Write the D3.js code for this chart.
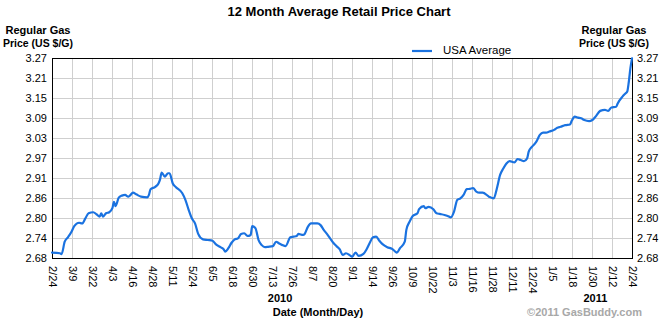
<!DOCTYPE html>
<html>
<head>
<meta charset="utf-8">
<script src="https://cdn.jsdelivr.net/npm/d3@7"></script>
<style>
html,body{margin:0;padding:0;background:#fff;}
svg{display:block;font-family:"Liberation Sans",Arial,sans-serif;}
</style>
</head>
<body>
<svg id="chart" width="663" height="324"></svg>
<script>
// ---- data (days since 2010-02-24, price in US $/G) ----
const dayOffsets = [0,5,6,8,10,12,14,17,19,21,23,26,28,30,31,32,34,36,38,39,40,42,44,46,48,49,51,53,56,60,61,62,65,67,68,69,71,73,74,76,78,82,84,86,88,90,92,95,98,101,103,106,108,109,111,113,115,117,119,121,123,125,126,128,130,132,134,136,139,141,143,145,147,150,152,154,155,158,159,161,163,167,169,171,173,175,177,179,181,183,185,188,189,191,193,196,198,200,202,204,206,208,211,214,216,217,219,222,223,225,227,230,231,234,235,237,240,242,244,247,249,251,253,255,257,259,261,263,265,267,269,271,275,278,280,282,284,286,288,291,293,295,297,299,300,302,304,305,307,309,311,313,316,318,320,323,326,327,329,331,333,335,338,340,342,345,348,350,352,355,356,359,361,362,363,364,365];
const usaAverage = [2.696,2.694,2.691,2.728,2.741,2.755,2.774,2.784,2.782,2.797,2.812,2.815,2.809,2.802,2.812,2.802,2.812,2.815,2.827,2.846,2.833,2.858,2.864,2.866,2.861,2.864,2.873,2.868,2.861,2.859,2.866,2.883,2.890,2.900,2.912,2.932,2.920,2.930,2.930,2.900,2.889,2.871,2.851,2.822,2.797,2.782,2.751,2.735,2.733,2.731,2.721,2.712,2.706,2.699,2.709,2.725,2.735,2.738,2.751,2.753,2.745,2.748,2.774,2.768,2.733,2.718,2.712,2.713,2.715,2.728,2.723,2.718,2.715,2.741,2.743,2.745,2.751,2.748,2.751,2.772,2.782,2.782,2.777,2.763,2.751,2.738,2.725,2.715,2.706,2.689,2.694,2.686,2.684,2.696,2.686,2.692,2.706,2.725,2.741,2.743,2.731,2.721,2.712,2.707,2.699,2.696,2.709,2.728,2.763,2.787,2.804,2.812,2.824,2.833,2.827,2.831,2.824,2.812,2.810,2.807,2.804,2.800,2.817,2.851,2.856,2.866,2.883,2.884,2.886,2.876,2.873,2.873,2.861,2.856,2.886,2.925,2.944,2.959,2.966,2.962,2.972,2.969,2.966,2.974,2.994,3.008,3.018,3.025,3.043,3.050,3.050,3.053,3.058,3.064,3.067,3.072,3.074,3.084,3.097,3.094,3.092,3.087,3.084,3.087,3.097,3.114,3.117,3.114,3.124,3.126,3.136,3.156,3.166,3.171,3.200,3.240,3.269];
const xTickLabels = ["2/24","3/9","3/22","4/3","4/16","4/28","5/11","5/24","6/5","6/18","6/30","7/13","7/26","8/7","8/20","9/1","9/14","9/26","10/9","10/22","11/3","11/16","11/28","12/11","12/24","1/5","1/18","1/30","2/12","2/24"];
const yTickLabels = ["2.68","2.74","2.80","2.86","2.91","2.97","3.03","3.09","3.15","3.21","3.27"];
const yMin = 2.68, yMax = 3.27;
const yearNames = ["2010","2011"];
const yearDays = [143.5, 342];
const seriesName = "USA Average";
const titleText = "12 Month Average Retail Price Chart";
const axisTitle = ["Regular Gas","Price (US $/G)"];
const xTitle = "Date (Month/Day)";
const credit = "\u00A92011 GasBuddy.com";

// ---- layout ----
const L = 52, R = 632, T = 58, B = 258;
const FONT = "Liberation Sans, Arial, sans-serif";
const svg = d3.select("#chart");
const x = d3.scaleLinear().domain([0, 365]).range([L, R]);
const xi = d3.scaleLinear().domain([0, xTickLabels.length - 1]).range([L, R]);
const xIdx = d3.range(xTickLabels.length);
const y = d3.scaleLinear().domain([yMin, yMax]).range([B, T]);
const yi = d3.scaleLinear().domain([0, yTickLabels.length - 1]).range([B, T]);
const yIdx = d3.range(yTickLabels.length);

// grid
const grid = svg.append("g").attr("stroke", "#cfcfcf").attr("stroke-width", 1).attr("shape-rendering","crispEdges");
grid.selectAll("line.v").data(xIdx).join("line")
  .attr("x1", d => xi(d) + 0.5).attr("x2", d => xi(d) + 0.5).attr("y1", T).attr("y2", B);
grid.selectAll("line.h").data(yIdx).join("line")
  .attr("x1", L).attr("x2", R).attr("y1", d => yi(d) + 0.5).attr("y2", d => yi(d) + 0.5);

// frame
svg.append("rect").attr("x", L + 0.5).attr("y", T + 0.5).attr("width", R - L).attr("height", B - T)
  .attr("fill", "none").attr("stroke", "#000").attr("stroke-width", 1.3).attr("shape-rendering","crispEdges");

// line
const data = dayOffsets.map((d, i) => ({d, v: usaAverage[i]}));
svg.append("path").datum(data)
  .attr("fill", "none").attr("stroke", "#1a72e0").attr("stroke-width", 2.2)
  .attr("stroke-linejoin", "round").attr("stroke-linecap", "round")
  .attr("d", d3.line().x(p => x(p.d)).y(p => y(p.v)).curve(d3.curveMonotoneX));

// y axes
const yFmt = i => yTickLabels[i];
const gl = svg.append("g").attr("transform", `translate(${L},0)`)
  .call(d3.axisLeft(yi).tickValues(yIdx).tickFormat(yFmt).tickSize(0).tickPadding(5));
const gr = svg.append("g").attr("transform", `translate(${R},0)`)
  .call(d3.axisRight(yi).tickValues(yIdx).tickFormat(yFmt).tickSize(0).tickPadding(5));
[gl, gr].forEach(g => {
  g.select(".domain").remove();
  g.selectAll("text").attr("font-size", 11).attr("fill", "#000").attr("font-family", FONT);
});

// x axis (rotated labels)
const gx = svg.append("g").attr("transform", `translate(0,${B})`)
  .call(d3.axisBottom(xi).tickValues(xIdx).tickFormat(i => xTickLabels[i]).tickSize(0).tickPadding(0));
gx.select(".domain").remove();
gx.selectAll("text")
  .attr("font-size", 11).attr("fill", "#000").attr("font-family", FONT)
  .attr("transform", "rotate(90)").attr("x", 8).attr("y", 0).attr("dy", "0.35em")
  .attr("text-anchor", "start");

// year labels
svg.selectAll("text.year").data(yearNames).join("text").attr("class","year")
  .attr("x", (d, i) => x(yearDays[i])).attr("y", 302).attr("text-anchor", "middle")
  .attr("font-size", 11).attr("font-weight", "bold").text(d => d);

// title
svg.append("text").attr("x", 339).attr("y", 16).attr("text-anchor", "middle")
  .attr("font-size", 13).attr("font-weight", "bold").text(titleText);

// axis titles
const titleWidths = [65, 70];
[38, 614].forEach(cx => {
  const t = svg.append("text").attr("x", cx).attr("y", 34).attr("text-anchor", "middle")
    .attr("font-size", 11.5).attr("font-weight", "bold");
  axisTitle.forEach((s, i) => t.append("tspan").attr("x", cx).attr("dy", i ? 13 : 0)
    .attr("textLength", titleWidths[i]).attr("lengthAdjust", "spacingAndGlyphs").text(s));
});

// legend
svg.append("line").attr("x1", 412).attr("x2", 432).attr("y1", 51).attr("y2", 51)
  .attr("stroke", "#1a72e0").attr("stroke-width", 2.2);
svg.append("text").attr("x", 443).attr("y", 54).attr("font-size", 11.5).text(seriesName);

// x title
svg.append("text").attr("x", 318).attr("y", 316).attr("text-anchor", "middle")
  .attr("font-size", 11).attr("font-weight", "bold").text(xTitle);

// credit
svg.append("text").attr("x", 642).attr("y", 316).attr("text-anchor", "end")
  .attr("font-size", 11).attr("font-weight", "bold").attr("fill", "#a8a8a8").text(credit);
</script>
</body>
</html>
